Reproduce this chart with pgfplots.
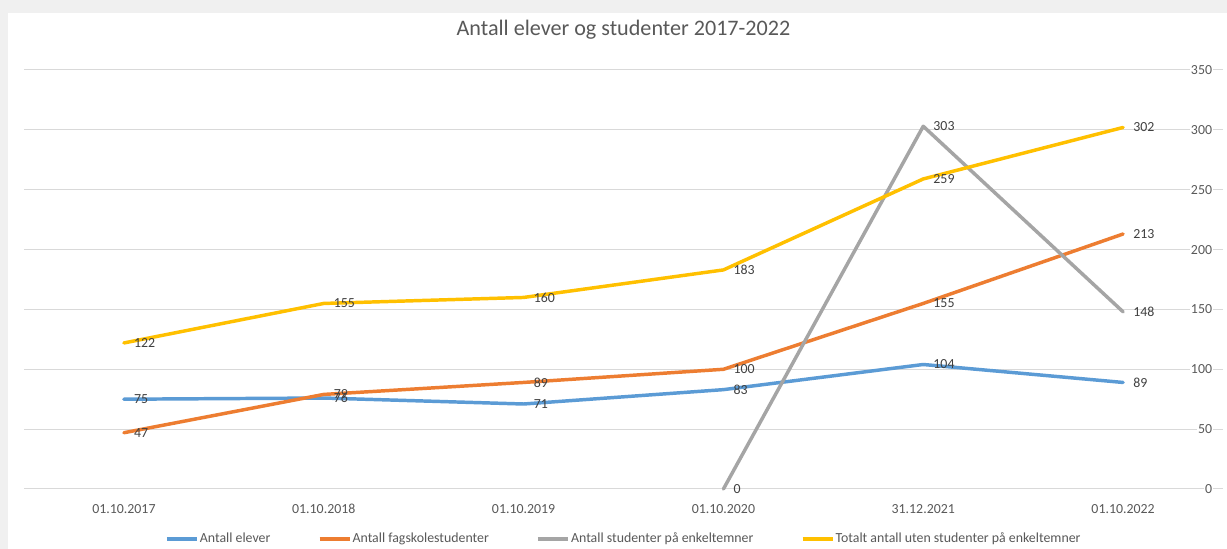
\documentclass[border=0pt]{standalone}
\usepackage{pgfplots}
\pgfplotsset{compat=1.18}
\usepackage{fontspec}
\setmainfont{Carlito}
\definecolor{cblue}{HTML}{5B9BD5}
\definecolor{corange}{HTML}{ED7D31}
\definecolor{cgray}{HTML}{A5A5A5}
\definecolor{cyellow}{HTML}{FFC000}
\definecolor{tickgray}{HTML}{595959}
\definecolor{labelgray}{HTML}{404040}
\definecolor{gridgray}{HTML}{D9D9D9}
\begin{document}
\begin{tikzpicture}
\path[use as bounding box] (0,0) rectangle (920.25pt,411.75pt);
\fill[black!6] (0,0) rectangle (920.25pt,411.75pt);
\fill[white] (6pt,0) rectangle (920.25pt,402pt);
\begin{axis}[
  at={(18pt,45pt)}, anchor=south west,
  scale only axis, width=899.25pt, height=314.25pt,
  xmin=-0.5, xmax=5.5, ymin=0, ymax=350,
  clip=false,
  xtick={0,1,2,3,4,5},
  xticklabels={01.10.2017,01.10.2018,01.10.2019,01.10.2020,31.12.2021,01.10.2022},
  ytick={0,50,...,350},
  yticklabel pos=right,
  axis line style={draw=none},
  major tick length=0pt,
  ymajorgrids,
  grid style={color=gridgray, line width=0.75pt},
  /pgf/number format/assume math mode=true,
  tick label style={font=\fontsize{10.4pt}{12pt}\selectfont, text=tickgray},
  yticklabel style={anchor=east, xshift=-7pt, fill=white, inner sep=1pt},
  xticklabel style={anchor=center, yshift=-15pt},
  title={Antall elever og studenter 2017-2022},
  title style={at={(0.5,1.0764)}, anchor=center, font=\fontsize{16.6pt}{20pt}\selectfont, text=tickgray},
  every axis plot/.append style={line width=2.6pt, line join=round, line cap=round},
  nodes near coords,
  every node near coord/.append style={anchor=west, xshift=3pt, font=\fontsize{10.4pt}{12pt}\selectfont, text=labelgray},
  legend image code/.code={\draw[#1, line width=2.6pt, line cap=butt] (0pt,0pt) -- (22.5pt,0pt);},
  legend columns=4,
  legend cell align=left,
  legend style={at={(0.5,-0.1193)}, anchor=center, draw=none, fill=none,
    font=\fontsize{10.4pt}{12pt}\selectfont, text=tickgray, inner sep=0pt,
    nodes={inner sep=1pt},
    /tikz/every even column/.append style={column sep=34.5pt}},
]
\addplot[color=cblue] coordinates {(0,75) (1,76) (2,71) (3,83) (4,104) (5,89)};
\addlegendentry{Antall elever}
\addplot[color=corange] coordinates {(0,47) (1,79) (2,89) (3,100) (4,155) (5,213)};
\addlegendentry{Antall fagskolestudenter}
\addplot[color=cgray] coordinates {(3,0) (4,303) (5,148)};
\addlegendentry{Antall studenter på enkeltemner}
\addplot[color=cyellow] coordinates {(0,122) (1,155) (2,160) (3,183) (4,259) (5,302)};
\addlegendentry{Totalt antall uten studenter på enkeltemner}
\end{axis}
\end{tikzpicture}
\end{document}
